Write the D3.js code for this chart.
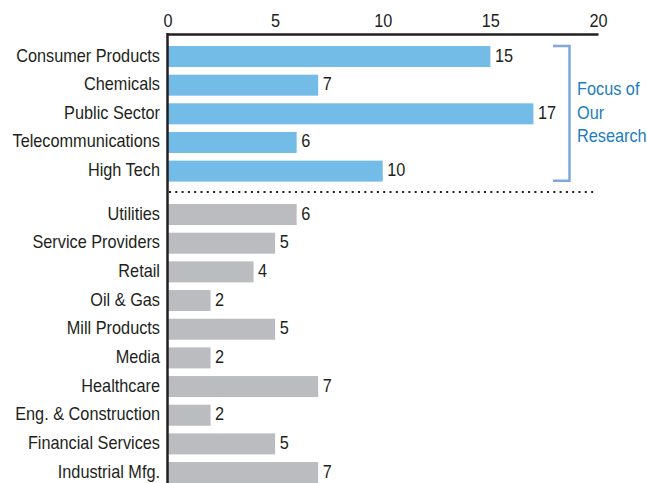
<!DOCTYPE html>
<html>
<head>
<meta charset="utf-8">
<script src="https://cdn.jsdelivr.net/npm/d3@7"></script>
<style>
  html, body { margin: 0; padding: 0; background: #fff; }
  svg text { font-family: "Liberation Sans", Arial, sans-serif; fill: #231f20; }
</style>
</head>
<body>
<svg id="chart" width="647" height="483"></svg>
<script>
// Industries in the research focus group (top) and the remaining ones (bottom)
const focusIndustries = ["Consumer Products", "Chemicals", "Public Sector", "Telecommunications", "High Tech"];
const focusCounts = [15, 7, 17, 6, 10];
const otherIndustries = ["Utilities", "Service Providers", "Retail", "Oil & Gas", "Mill Products", "Media",
  "Healthcare", "Eng. & Construction", "Financial Services", "Industrial Mfg."];
const otherCounts = [6, 5, 4, 2, 5, 2, 7, 2, 5, 7];
const tickValues = [0, 5, 10, 15, 20];
const focusLabel = ["Focus of", "Our", "Research"];

const svg = d3.select("#chart");
const fontSize = 18;
const narrow = "scale(0.905,1)"; // condensed look for all labels
const baselineShift = 5;

const x = d3.scaleLinear().domain([0, 20]).range([167.5, 598]);

const yFocus = d3.scaleBand().domain(focusIndustries)
  .range([42.2, 42.2 + 5 * 28.65]).paddingInner(0.267).paddingOuter(0.1335);
const yOther = d3.scaleBand().domain(otherIndustries)
  .range([200.2, 200.2 + 10 * 28.67]).paddingInner(0.267).paddingOuter(0.1335);

function drawGroup(names, counts, y, color) {
  const rows = names.map((n, i) => ({ name: n, value: counts[i] }));
  const mid = d => y(d.name) + y.bandwidth() / 2 + baselineShift;
  const g = svg.append("g");
  g.selectAll("rect").data(rows).join("rect")
    .attr("x", x(0))
    .attr("y", d => y(d.name))
    .attr("width", d => x(d.value) - x(0))
    .attr("height", y.bandwidth())
    .attr("fill", color);
  g.selectAll("text.value").data(rows).join("text")
    .attr("class", "value")
    .attr("transform", d => `translate(${x(d.value) + 4.5},${mid(d)}) ${narrow}`)
    .style("font-size", fontSize + "px")
    .text(d => d.value);
  g.selectAll("text.cat").data(rows).join("text")
    .attr("class", "cat")
    .attr("transform", d => `translate(160,${mid(d)}) ${narrow}`)
    .attr("text-anchor", "end")
    .style("font-size", fontSize + "px")
    .text(d => d.name);
}

drawGroup(focusIndustries, focusCounts, yFocus, "#74bce8");
drawGroup(otherIndustries, otherCounts, yOther, "#bbbcc0");

// Top value axis: a heavy baseline with labels only
const axis = svg.append("g")
  .attr("transform", "translate(0,34)")
  .call(d3.axisTop(x).tickValues(tickValues).tickSize(0).tickPadding(7).tickSizeOuter(0));
axis.select(".domain").attr("stroke", "#231f20").attr("stroke-width", 2.5);
axis.selectAll(".tick text")
  .attr("transform", narrow)
  .style("font-size", fontSize + "px")
  .attr("fill", "#231f20");
axis.attr("font-family", null).attr("font-size", null);

// Left baseline running the full height
svg.append("line")
  .attr("x1", x(0)).attr("x2", x(0))
  .attr("y1", 33).attr("y2", 483)
  .attr("stroke", "#231f20").attr("stroke-width", 2.5);

// Dotted separator between the two groups
svg.append("line")
  .attr("x1", 169).attr("x2", 595)
  .attr("y1", 192).attr("y2", 192)
  .attr("stroke", "#231f20").attr("stroke-width", 2)
  .attr("stroke-dasharray", "2,4.3");

// Bracket marking the focus group
const bTop = yFocus(focusIndustries[0]);
const bBot = yFocus(focusIndustries[focusIndustries.length - 1]) + yFocus.bandwidth() - 1;
svg.append("path")
  .attr("d", `M553,${bTop}H569.5V${bBot}H553`)
  .attr("fill", "none")
  .attr("stroke", "#7fa8dc")
  .attr("stroke-width", 2.5);

svg.append("g").selectAll("text").data(focusLabel).join("text")
  .attr("transform", (d, i) => `translate(577,${95 + i * 23.5}) ${narrow}`)
  .style("font-size", fontSize + "px")
  .style("fill", "#1b7dc2")
  .text(d => d);
</script>
</body>
</html>
